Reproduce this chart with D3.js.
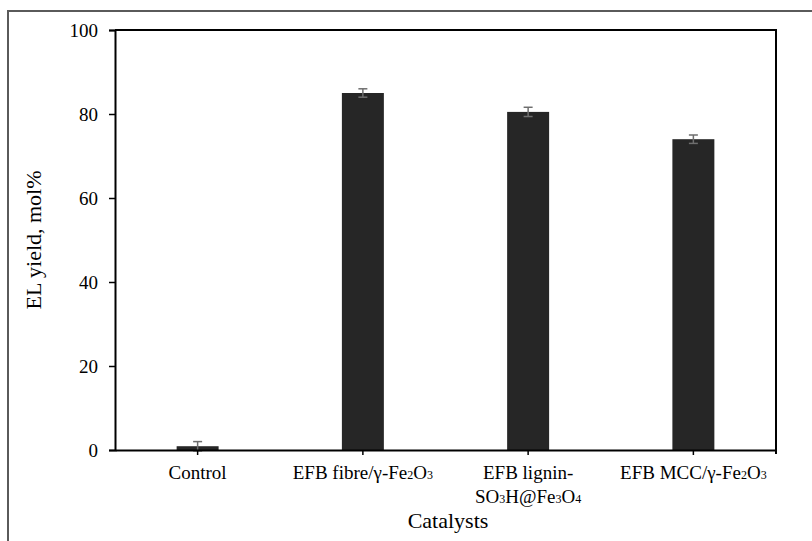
<!DOCTYPE html>
<html>
<head>
<meta charset="utf-8">
<script src="https://cdn.jsdelivr.net/npm/d3@7"></script>
<style>
  html, body { margin: 0; padding: 0; background: #fff; }
  svg { display: block; }
</style>
</head>
<body>
<svg id="chart" width="812" height="541"></svg>
<script>
// Catalyst labels: each entry is a list of lines, each line a list of [text, isSubscript] runs
const categories = ["Control", "EFB fibre/γ-Fe2O3", "EFB lignin-SO3H@Fe3O4", "EFB MCC/γ-Fe2O3"];
const labelLines = [
  [[["Control", false]]],
  [[["EFB fibre/γ-Fe", false], ["2", true], ["O", false], ["3", true]]],
  [[["EFB lignin-", false]], [["SO", false], ["3", true], ["H@Fe", false], ["3", true], ["O", false], ["4", true]]],
  [[["EFB MCC/γ-Fe", false], ["2", true], ["O", false], ["3", true]]]
];
const yieldValues = [0.9, 85.0, 80.5, 74.0];
const yieldErrors = [1.1, 1.0, 1.1, 1.0];
const yTicks = [0, 20, 40, 60, 80, 100];

const SERIF = "'Liberation Serif', 'Times New Roman', Times, serif";
const svg = d3.select("#chart").attr("font-family", SERIF);
const margin = { left: 115, right: 36, top: 30, bottom: 91 };
const W = 812, H = 541;

// outer frame
svg.append("rect")
  .attr("x", 8).attr("y", 11)
  .attr("width", W + 20).attr("height", H + 20)
  .attr("fill", "none").attr("stroke", "#5a5a5a").attr("stroke-width", 2);

const x = d3.scaleBand().domain(categories)
  .range([margin.left, W - margin.right])
  .paddingInner(0.746).paddingOuter(0.373);
const xc = d3.scaleBand().domain(categories).range([margin.left, W - margin.right]);
const y = d3.scaleLinear().domain([0, 100]).range([H - margin.bottom, margin.top]);

// bars
svg.append("g").selectAll("rect").data(categories).join("rect")
  .attr("x", d => x(d))
  .attr("width", x.bandwidth())
  .attr("y", (d, i) => y(yieldValues[i]))
  .attr("height", (d, i) => y(0) - y(yieldValues[i]))
  .attr("fill", "#262626");

// error bars
const eg = svg.append("g").attr("stroke", "#6e6e6e").attr("stroke-width", 1.5);
categories.forEach((c, i) => {
  const cx = x(c) + x.bandwidth() / 2;
  const top = y(yieldValues[i] + yieldErrors[i]);
  const bot = y(yieldValues[i] - yieldErrors[i]);
  eg.append("line").attr("x1", cx).attr("x2", cx).attr("y1", top).attr("y2", bot);
  eg.append("line").attr("x1", cx - 4.5).attr("x2", cx + 4.5).attr("y1", top).attr("y2", top);
  eg.append("line").attr("x1", cx - 4.5).attr("x2", cx + 4.5).attr("y1", bot).attr("y2", bot);
});

// plot border (top and right)
svg.append("path")
  .attr("d", `M${margin.left},${margin.top}H${W - margin.right}V${y(0) + 4}`)
  .attr("fill", "none").attr("stroke", "#000").attr("stroke-width", 2);

// y axis
const yAxis = svg.append("g")
  .attr("transform", `translate(${margin.left},0)`)
  .call(d3.axisLeft(y).tickValues(yTicks).tickSize(6).tickPadding(11))
  .attr("font-family", SERIF).attr("font-size", 19);
yAxis.select(".domain").attr("stroke-width", 2);
yAxis.selectAll(".tick line").attr("stroke-width", 1.5);
yAxis.selectAll(".tick text").attr("font-family", SERIF).attr("font-size", 19);

// x axis
const xAxis = svg.append("g")
  .attr("transform", `translate(0,${y(0)})`)
  .call(d3.axisBottom(xc).tickSize(5).tickSizeOuter(0).tickFormat(""));
xAxis.select(".domain").attr("stroke-width", 2);
xAxis.selectAll(".tick line").attr("stroke-width", 1.5);

// category labels with subscripts
const lg = svg.append("g").attr("font-family", SERIF).attr("font-size", 19).attr("text-anchor", "middle");
categories.forEach((c, i) => {
  const cx = xc(c) + xc.bandwidth() / 2;
  labelLines[i].forEach((line, li) => {
    const t = lg.append("text").attr("x", cx).attr("y", 479 + li * 24).attr("fill", "#000");
    line.forEach(([s, sub]) => {
      const ts = t.append("tspan").text(s);
      if (sub) ts.attr("font-size", 12);
    });
  });
});

// axis titles
svg.append("text")
  .attr("x", 448).attr("y", 528)
  .attr("text-anchor", "middle").attr("font-size", 22)
  .text("Catalysts");
svg.append("text")
  .attr("transform", `translate(41,${(y(0) + y(100)) / 2}) rotate(-90)`)
  .attr("text-anchor", "middle").attr("font-size", 22)
  .text("EL yield, mol%");
</script>
</body>
</html>
